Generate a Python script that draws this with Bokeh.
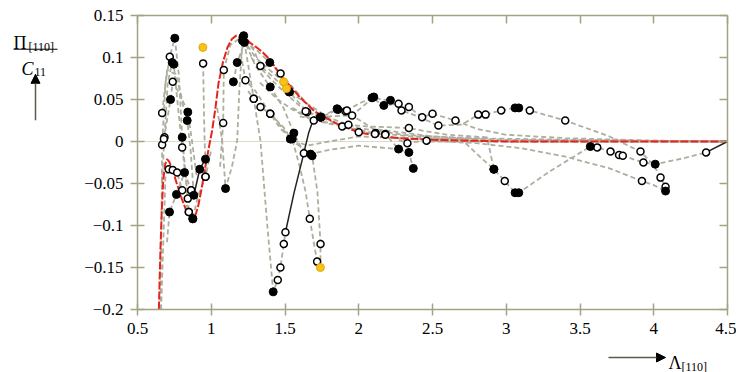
from bokeh.plotting import figure
from bokeh.models import Range1d, FixedTicker, LinearAxis, Arrow, NormalHead
from bokeh.layouts import row, column
from bokeh.core.properties import value
from bokeh.embed import file_html
from bokeh.resources import INLINE

# ---------------- data ----------------
x_ticks = [0.5, 1.0, 1.5, 2.0, 2.5, 3.0, 3.5, 4.0, 4.5]
x_tick_labels = ["0.5", "1", "1.5", "2", "2.5", "3", "3.5", "4", "4.5"]
y_ticks = [-0.2, -0.15, -0.1, -0.05, 0.0, 0.05, 0.1, 0.15]
y_tick_labels = ["\u22120.2", "\u22120.15", "\u22120.1", "\u22120.05", "0", "0.05", "0.1", "0.15"]

red_x = [0.645, 0.650, 0.656, 0.665, 0.675, 0.688, 0.700, 0.715, 0.740, 0.770,
         0.800, 0.830, 0.860, 0.875, 0.890, 0.910, 0.935, 0.960, 0.985, 1.006,
         1.030, 1.049, 1.080, 1.110, 1.140, 1.170, 1.198, 1.225, 1.260, 1.300,
         1.350, 1.400, 1.470, 1.540, 1.605, 1.700, 1.800, 1.876, 2.000, 2.150,
         2.280, 2.500, 3.000, 4.500]
red_y = [-0.200, -0.165, -0.126, -0.080, -0.045, -0.027, -0.021, -0.024, -0.035, -0.052,
         -0.068, -0.082, -0.091, -0.092, -0.089, -0.078, -0.056, -0.030, -0.006, 0.013,
         0.042, 0.069, 0.095, 0.112, 0.122, 0.126, 0.126, 0.125, 0.118, 0.113,
         0.106, 0.097, 0.079, 0.065, 0.052, 0.036, 0.026, 0.019, 0.011, 0.006,
         0.004, 0.002, 0.000, 0.000]

# gray dashed traces; marks: '.' none, 'o' open, 'f' filled, 'y' yellow
curve_x = [
    [0.655, 0.662, 0.667, 0.690, 0.719, 0.753, 0.780, 0.803, 0.830, 0.848, 0.875],
    [0.665, 0.683, 0.705, 0.735, 0.746, 0.775, 0.803, 0.825, 0.841, 0.864],
    [0.679, 0.724, 0.739, 0.790, 0.837, 0.860, 0.882],
    [0.667, 0.700, 0.760, 0.803, 0.841, 0.870, 0.900],
    [0.660, 0.690, 0.712, 0.739, 0.769, 0.803, 0.848, 0.875, 0.910, 0.961, 1.000],
    [0.700, 0.717, 0.764, 0.819, 0.864],
    [0.945, 0.950, 0.955, 0.961, 0.961],
    [1.040, 1.074, 1.097, 1.140, 1.176, 1.190, 1.212, 1.300, 1.397, 1.470, 1.550, 1.650, 1.800, 2.000, 2.300, 2.700, 3.500, 4.500],
    [1.060, 1.081, 1.085, 1.130, 1.220, 1.290, 1.334, 1.430, 1.530, 1.650, 1.740, 1.900, 2.100, 2.500, 3.000, 4.500],
    [1.150, 1.176, 1.225, 1.288, 1.334, 1.380, 1.420, 1.451, 1.469, 1.492, 1.503],
    [1.200, 1.232, 1.300, 1.400, 1.470, 1.549, 1.600, 1.640, 1.668, 1.700, 1.718],
    [1.215, 1.300, 1.400, 1.490, 1.560, 1.628, 1.684, 1.720, 1.741, 1.740],
    [1.215, 1.300, 1.397, 1.490, 1.510, 1.530, 1.650, 1.740, 1.853, 1.910, 2.100, 2.500, 3.000, 4.500],
    [1.270, 1.400, 1.500, 1.640, 1.745, 1.858, 1.920, 2.000, 2.090, 2.170, 2.270, 2.340, 2.430, 2.500, 2.656, 2.800, 3.000, 3.400, 4.000, 4.500],
    [1.330, 1.450, 1.550, 1.695, 1.800, 1.955, 2.102, 2.150, 2.215, 2.290, 2.400, 2.540, 2.700, 2.810, 2.860, 2.966, 3.060, 3.085, 3.160, 3.400, 3.700, 3.910, 4.000, 4.046, 4.080],
    [2.300, 2.500, 2.700, 2.826, 2.916, 2.990, 3.060, 3.085, 3.300, 3.570, 3.617, 3.707, 3.765, 3.790, 3.930, 4.010, 4.200, 4.355],
    [2.460, 2.800, 3.100, 3.400, 3.700, 3.920, 4.000, 4.080],
    [1.900, 2.000, 2.114, 2.180, 2.270, 2.340, 2.370],
    [1.550, 1.700, 1.888, 2.000, 2.110, 2.180, 2.330, 2.400, 2.700, 3.200, 4.500],
    [1.600, 1.800, 1.930, 2.050, 2.200, 2.340, 2.460, 2.600, 2.870, 2.916],
    [1.420, 1.537, 1.650, 1.800, 2.000, 2.300, 2.600, 3.000, 4.500],
    [1.250, 1.288, 1.334, 1.400, 1.500, 1.537, 1.673, 1.800, 2.000, 2.270],
]
curve_y = [
    [-0.200, -0.100, -0.004, 0.070, 0.101, 0.123, 0.080, 0.005, -0.045, -0.084, -0.092],
    [-0.050, 0.005, 0.070, 0.094, 0.092, 0.040, -0.007, -0.040, -0.068, -0.058],
    [0.003, 0.050, 0.071, 0.055, 0.025, -0.010, -0.064],
    [0.034, 0.085, 0.080, 0.050, 0.035, 0.000, -0.040],
    [-0.200, -0.040, -0.033, -0.034, -0.037, -0.058, -0.084, -0.092, -0.065, -0.042, -0.010],
    [-0.120, -0.084, -0.063, -0.037, -0.058],
    [0.093, 0.040, 0.000, -0.021, -0.042],
    [0.040, 0.001, -0.056, -0.030, 0.001, 0.060, 0.120, 0.110, 0.094, 0.081, 0.065, 0.045, 0.028, 0.016, 0.008, 0.004, 0.002, 0.000],
    [-0.030, 0.022, 0.085, 0.115, 0.126, 0.108, 0.090, 0.075, 0.059, 0.035, 0.029, 0.018, 0.010, 0.004, 0.001, 0.000],
    [0.071, 0.094, 0.118, 0.051, 0.000, -0.100, -0.179, -0.165, -0.150, -0.122, -0.108],
    [0.105, 0.073, 0.060, 0.033, 0.015, 0.003, -0.030, -0.060, -0.092, -0.125, -0.143],
    [0.124, 0.090, 0.065, 0.040, 0.010, -0.014, -0.017, -0.060, -0.122, -0.150],
    [0.122, 0.100, 0.085, 0.071, 0.063, 0.059, 0.045, 0.029, 0.039, 0.036, 0.015, 0.006, 0.002, 0.000],
    [0.100, 0.075, 0.058, 0.036, 0.029, 0.038, 0.037, 0.045, 0.052, 0.043, 0.045, 0.041, 0.029, 0.033, 0.025, 0.015, 0.008, 0.004, 0.001, 0.000],
    [0.070, 0.050, 0.038, 0.025, 0.030, 0.031, 0.053, 0.050, 0.049, 0.037, 0.030, 0.019, 0.020, 0.032, 0.032, 0.037, 0.040, 0.040, 0.037, 0.025, 0.006, -0.012, -0.028, -0.043, -0.054],
    [0.002, 0.004, 0.002, -0.019, -0.033, -0.047, -0.061, -0.061, -0.035, -0.006, -0.007, -0.012, -0.016, -0.017, -0.025, -0.027, -0.020, -0.013],
    [0.001, -0.002, -0.008, -0.018, -0.032, -0.047, -0.052, -0.059],
    [0.020, 0.011, 0.010, 0.009, -0.009, -0.013, -0.032],
    [0.040, 0.025, 0.018, 0.013, 0.009, 0.008, -0.002, 0.000, 0.000, 0.000, 0.000],
    [0.030, 0.022, 0.020, 0.018, 0.017, 0.016, 0.012, 0.008, 0.005, -0.033],
    [0.030, 0.003, -0.005, 0.000, 0.006, 0.004, 0.002, 0.000, 0.000],
    [0.060, 0.051, 0.041, 0.033, 0.015, 0.003, -0.015, -0.010, -0.005, -0.009],
]
curve_marks = [
    "..o.of.f.of",
    ".o.ff.o.oo",
    "ofo.f.f",
    "o...f..",
    "..ooooof.o.",
    ".fffo",
    "o..fo",
    "..f...f.fo........",
    ".oo.f.o.fof.....",
    "fffo..foooo",
    ".o.o.f..o.o",
    "f.f.fof.oy",
    "...yyf.ffo....",
    "...offo.ffooooo.....",
    "...o.of.fo.o.oooffoo.o.oo",
    "....foff.fooooof.o",
    "o....o.f",
    ".ooofff",
    "..o.ooo....",
    "..o..o...f",
    ".f.......",
    ".ooo.ff...",
]

# solid black traces
solid_x = [[0.882, 0.922, 0.961], [1.503, 1.560, 1.615, 1.660, 1.700], [4.355, 4.500]]
solid_y = [[-0.064, -0.033, -0.021], [-0.108, -0.062, -0.023, 0.010, 0.030], [-0.013, 0.000]]
solid_marks = [".f.", ".....", ".."]

lone_yellow_x = [0.943]
lone_yellow_y = [0.112]

y_title = ["\u03a0", "[110]", "C", "11"]
x_title = ["\u039b", "[110]"]

AX = "#a3a383"
GRAY = "#aeae9e"
SERIF = "Liberation Serif"
SHAFT = "#5a5a48"

LEFT_W = 80
TOP_H = 340
BOT_H = 372 - TOP_H

# ---------------- main plot ----------------
p = figure(width=736 - LEFT_W, height=TOP_H, output_backend="svg", toolbar_location=None,
           title=None,
           x_range=Range1d(0.5, 4.5), y_range=Range1d(-0.2, 0.15),
           min_border_left=137 - LEFT_W, min_border_right=9, min_border_top=15,
           min_border_bottom=TOP_H - 309)
p.outline_line_color = None
p.background_fill_color = "white"
p.border_fill_color = "white"

p.xgrid.visible = False
p.ygrid.ticker = FixedTicker(ticks=[0.0])
p.ygrid.grid_line_color = "#dcdcc6"
p.ygrid.grid_line_width = 1

for ax, ticks, labels, tin, tout in ((p.xaxis[0], x_ticks, x_tick_labels, 6, 6),
                                     (p.yaxis[0], y_ticks, y_tick_labels, 7, 7)):
    ax.ticker = FixedTicker(ticks=ticks)
    ax.major_label_overrides = {t: l for t, l in zip(ticks, labels)}
    ax.axis_line_color = AX
    ax.axis_line_width = 1.5
    ax.major_tick_line_color = AX
    ax.major_tick_line_width = 1.5
    ax.major_tick_in = tin
    ax.major_tick_out = tout
    ax.minor_tick_line_color = None
    ax.major_label_text_font = SERIF
    ax.major_label_text_font_size = "17px"
    ax.major_label_text_color = "black"
    ax.major_label_standoff = 7

for loc, ticks in (("above", x_ticks), ("right", y_ticks)):
    a = LinearAxis(ticker=FixedTicker(ticks=ticks))
    a.major_label_overrides = {t: "" for t in ticks}
    a.axis_line_color = AX
    a.axis_line_width = 1.5
    a.major_tick_line_color = AX
    a.major_tick_line_width = 1.5
    a.major_tick_in = 8
    a.major_tick_out = 0
    a.minor_tick_line_color = None
    a.major_label_text_font_size = "8px"
    a.major_label_standoff = 0
    p.add_layout(a, loc)

open_x, open_y, fill_x, fill_y = [], [], [], []
yel_x, yel_y = list(lone_yellow_x), list(lone_yellow_y)
for xs, ys, ms in zip(curve_x, curve_y, curve_marks):
    assert len(xs) == len(ys) == len(ms), (xs, ms)
    p.line(xs, ys, line_color=GRAY, line_width=1.8, line_dash="5 3")
for xs, ys, ms in list(zip(curve_x, curve_y, curve_marks)) + list(zip(solid_x, solid_y, solid_marks)):
    for x, y, m in zip(xs, ys, ms):
        if m == "o":
            open_x.append(x); open_y.append(y)
        elif m == "f":
            fill_x.append(x); fill_y.append(y)
        elif m == "y":
            yel_x.append(x); yel_y.append(y)

p.line(red_x, red_y, line_color="#e8231c", line_width=2, line_dash="8 2")
for xs, ys in zip(solid_x, solid_y):
    p.line(xs, ys, line_color="#222222", line_width=1.5)

p.scatter(open_x, open_y, marker="circle", size=7, fill_color="white", line_color="black", line_width=1.5)
p.scatter(fill_x, fill_y, marker="circle", size=8, fill_color="black", line_color="black")
p.scatter(yel_x, yel_y, marker="circle", size=8, fill_color="#f6c21c", line_color="#e9a900")


def blank(width, height):
    f = figure(width=width, height=height, output_backend="svg", toolbar_location=None,
               title=None, x_axis_type=None, y_axis_type=None,
               x_range=Range1d(0, width), y_range=Range1d(height, 0),
               min_border=0, min_border_left=0, min_border_right=0,
               min_border_top=0, min_border_bottom=0)
    f.grid.visible = False
    f.outline_line_color = None
    f.background_fill_color = "white"
    f.border_fill_color = "white"
    return f


def txt(f, x, y, s, size, style="normal"):
    f.text(x=[x], y=[y], text=[s], text_font=value(SERIF), text_font_size=value(size),
           text_font_style=style, text_baseline="alphabetic", text_align="left", text_color="black")


def arrow(f, x0, y0, x1, y1):
    f.add_layout(Arrow(x_start=x0, y_start=y0, x_end=x1, y_end=y1, line_color=SHAFT, line_width=1.5,
                       end=NormalHead(size=9, fill_color="black", line_color="black")))


# ---------------- y title (left strip) ----------------
lf = blank(LEFT_W, TOP_H)
txt(lf, 13, 32, y_title[0], "18px")
txt(lf, 28, 36, y_title[1], "12px")
lf.segment(x0=[13], y0=[39], x1=[57], y1=[39], line_color="black", line_width=1)
txt(lf, 21, 62, y_title[2], "18px", "italic")
txt(lf, 34, 65, y_title[3], "12px")
arrow(lf, 35, 121, 35, 68)

# ---------------- x title (bottom strip) ----------------
bf = blank(736, BOT_H)
arrow(bf, 608, 357 - TOP_H, 665, 357 - TOP_H)
txt(bf, 668, 362 - TOP_H, x_title[0], "18px")
txt(bf, 681, 366 - TOP_H, x_title[1], "12px")

layout = column(row(lf, p), bf)

html = file_html(layout, INLINE)
html = html.replace("<head>", "<head><style>html,body{overflow:hidden}</style>", 1)
open("out.html", "w").write(html)
